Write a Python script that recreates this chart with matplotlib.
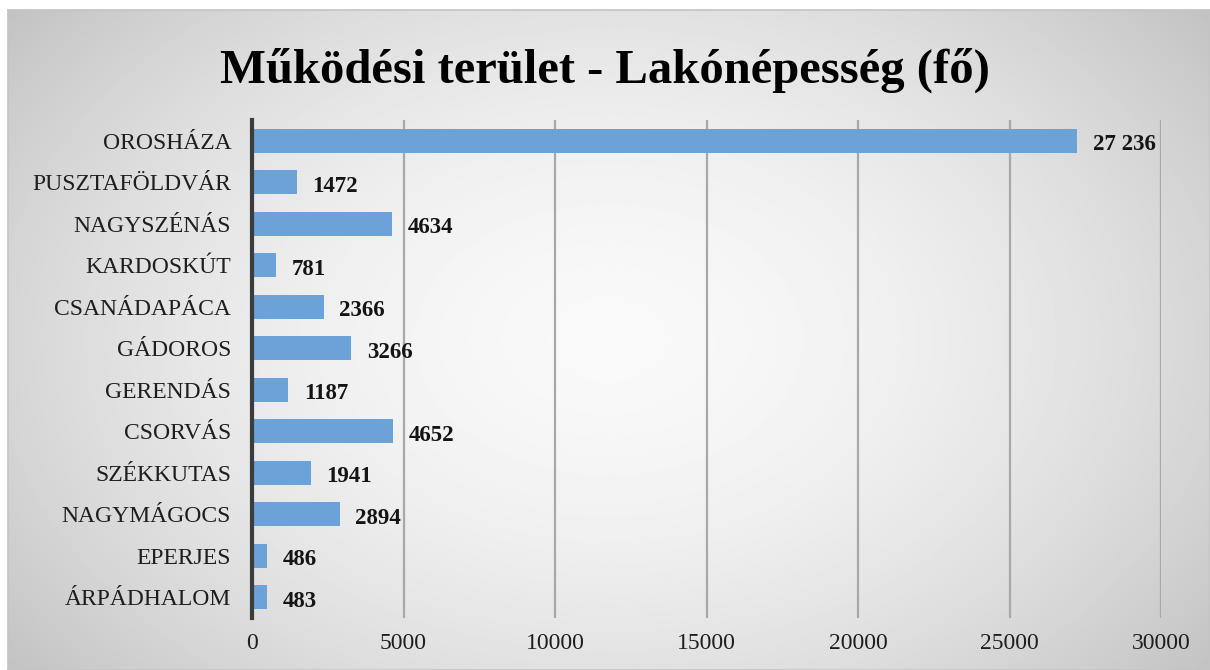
import numpy as np
import matplotlib
matplotlib.use('Agg')
import matplotlib.pyplot as plt

# Data
categories = ['OROSHÁZA', 'PUSZTAFÖLDVÁR', 'NAGYSZÉNÁS', 'KARDOSKÚT', 'CSANÁDAPÁCA',
              'GÁDOROS', 'GERENDÁS', 'CSORVÁS', 'SZÉKKUTAS', 'NAGYMÁGOCS',
              'EPERJES', 'ÁRPÁDHALOM']
population = [27236, 1472, 4634, 781, 2366, 3266, 1187, 4652, 1941, 2894, 486, 483]
x_ticks = [0, 5000, 10000, 15000, 20000, 25000, 30000]

plt.rcParams['font.family'] = ['Liberation Serif', 'DejaVu Serif']

fig = plt.figure(figsize=(12.1, 6.7), dpi=100)
fig.patch.set_facecolor('white')

# Radial gradient background with thin frame
bg = fig.add_axes([8 / 1210, 0, 1202 / 1210, 660 / 670])
yy, xx = np.mgrid[-1:1:300j, -1:1:500j]
r = np.sqrt((xx * 0.95) ** 2 + (yy * 0.75) ** 2)
shade = np.clip(0.975 - 0.15 * r ** 1.8, 0, 1)
bg.imshow(shade, cmap='gray', vmin=0, vmax=1, aspect='auto', extent=[0, 1, 0, 1])
bg.set_xticks([])
bg.set_yticks([])
for s in bg.spines.values():
    s.set_color('#c4c4c4')
    s.set_linewidth(1.2)

ax = fig.add_axes([252 / 1210, 1 - 618 / 670, (1161 - 252) / 1210, (618 - 120) / 670])
ax.set_facecolor('none')

y = np.arange(len(categories))
ax.barh(y, population, height=0.58, color='#6ba3d9', zorder=3)

for yi, v in zip(y, population):
    label = f'{v:,}'.replace(',', ' ') if v >= 10000 else str(v)
    ax.text(v + 520, yi + 0.1, label, va='center', ha='left', fontsize=16.5,
            fontweight='bold', color='#141414', zorder=4)

ax.set_xlim(0, 30000)
ax.set_ylim(len(categories) - 0.5, -0.5)
ax.set_yticks(y)
ax.set_yticklabels(categories, fontsize=17, color='#1e1e1e')
ax.set_xticks(x_ticks)
ax.set_xticklabels([str(t) for t in x_ticks], fontsize=17, color='#1e1e1e')
ax.tick_params(axis='both', length=0)
ax.tick_params(axis='y', pad=15)
ax.tick_params(axis='x', pad=11)

ax.grid(axis='x', color='#a8a8a8', linewidth=1.6, zorder=1)
for s in ['top', 'right', 'bottom']:
    ax.spines[s].set_visible(False)
ax.spines['left'].set_color('#3c3c3c')
ax.spines['left'].set_linewidth(3)
ax.spines['left'].set_zorder(5)

fig.text(0.5, 1 - 70 / 670, 'Működési terület - Lakónépesség (fő)', ha='center', va='center',
         fontsize=35, fontweight='bold', color='black')

fig.savefig('out.png', dpi=100)
